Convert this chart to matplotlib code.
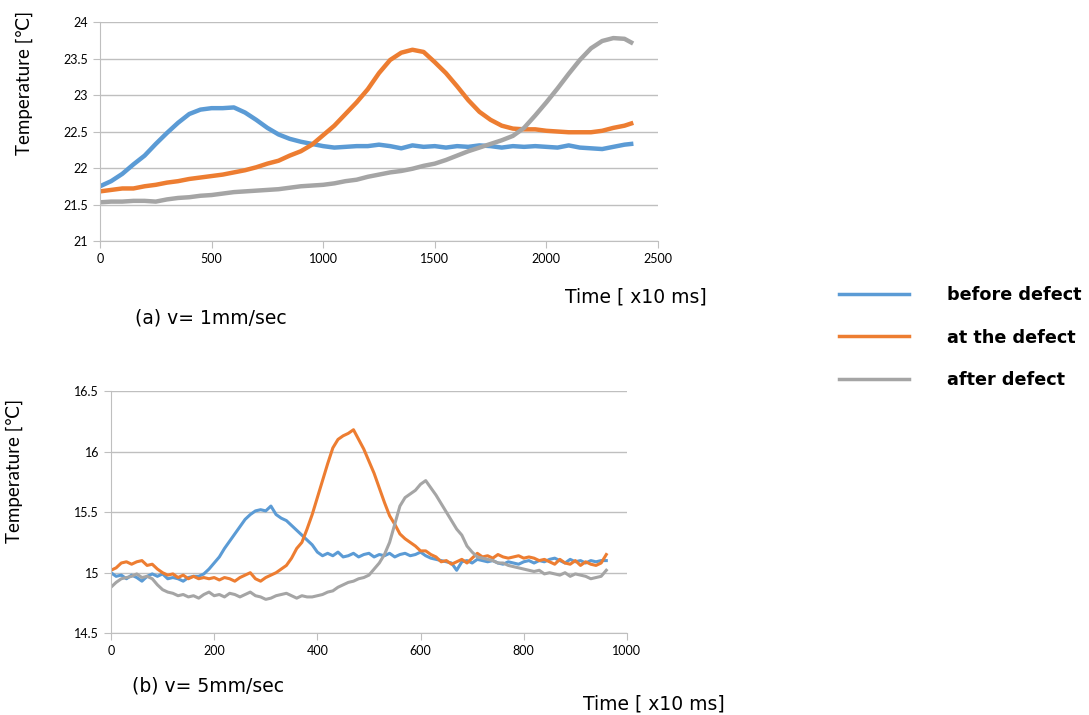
import numpy as np
import matplotlib
matplotlib.use("Agg")
import matplotlib.pyplot as plt
from matplotlib.lines import Line2D

plt.rcParams['font.family'] = ['Lato', 'DejaVu Sans']

# ---- (a) v = 1mm/sec, sampled every 50 (x10 ms)
time_a = list(range(0, 2400, 50)) + [2380]
before_a = [21.75, 21.82, 21.92, 22.05, 22.17, 22.33, 22.48, 22.62, 22.74, 22.80,
            22.82, 22.82, 22.83, 22.76, 22.66, 22.55, 22.46, 22.40, 22.36, 22.33,
            22.30, 22.28, 22.29, 22.30, 22.30, 22.32, 22.30, 22.27, 22.31, 22.29,
            22.30, 22.28, 22.30, 22.29, 22.31, 22.30, 22.28, 22.30, 22.29, 22.30,
            22.29, 22.28, 22.31, 22.28, 22.27, 22.26, 22.29, 22.32, 22.33]
at_a = [21.68, 21.70, 21.72, 21.72, 21.75, 21.77, 21.80, 21.82, 21.85, 21.87,
        21.89, 21.91, 21.94, 21.97, 22.01, 22.06, 22.10, 22.17, 22.23, 22.32,
        22.45, 22.58, 22.74, 22.90, 23.08, 23.30, 23.48, 23.58, 23.62, 23.59,
        23.45, 23.30, 23.12, 22.93, 22.77, 22.66, 22.58, 22.54, 22.53, 22.53,
        22.51, 22.50, 22.49, 22.49, 22.49, 22.51, 22.55, 22.58, 22.61]
after_a = [21.53, 21.54, 21.54, 21.55, 21.55, 21.54, 21.57, 21.59, 21.60, 21.62,
           21.63, 21.65, 21.67, 21.68, 21.69, 21.70, 21.71, 21.73, 21.75, 21.76,
           21.77, 21.79, 21.82, 21.84, 21.88, 21.91, 21.94, 21.96, 21.99, 22.03,
           22.06, 22.11, 22.17, 22.23, 22.28, 22.33, 22.38, 22.44, 22.55, 22.72,
           22.90, 23.09, 23.29, 23.48, 23.64, 23.74, 23.78, 23.77, 23.72]

# ---- (b) v = 5mm/sec, sampled every 10 (x10 ms)
time_b = list(range(0, 970, 10))
before_b = [15.00, 14.97, 14.98, 14.95, 14.98, 14.96, 14.93, 14.97, 14.99, 14.97,
            14.99, 14.95, 14.96, 14.95, 14.93, 14.96, 14.97, 14.97, 14.99, 15.03,
            15.08, 15.13, 15.20, 15.26, 15.32, 15.38, 15.44, 15.48, 15.51, 15.52,
            15.51, 15.55, 15.48, 15.45, 15.43, 15.39, 15.35, 15.31, 15.27, 15.23,
            15.17, 15.14, 15.16, 15.14, 15.17, 15.13, 15.14, 15.16, 15.13, 15.15,
            15.16, 15.13, 15.15, 15.14, 15.16, 15.13, 15.15, 15.16, 15.14, 15.15,
            15.17, 15.14, 15.12, 15.11, 15.10, 15.09, 15.08, 15.02, 15.09, 15.10,
            15.08, 15.11, 15.10, 15.09, 15.10, 15.08, 15.07, 15.09, 15.08, 15.07,
            15.09, 15.10, 15.08, 15.10, 15.09, 15.11, 15.12, 15.10, 15.08, 15.11,
            15.09, 15.10, 15.08, 15.10, 15.09, 15.10, 15.10]
at_b = [15.02, 15.04, 15.08, 15.09, 15.07, 15.09, 15.10, 15.06, 15.07, 15.03,
        15.00, 14.98, 14.99, 14.96, 14.98, 14.95, 14.97, 14.95, 14.96, 14.95,
        14.96, 14.94, 14.96, 14.95, 14.93, 14.96, 14.98, 15.00, 14.95, 14.93,
        14.96, 14.98, 15.00, 15.03, 15.06, 15.12, 15.20, 15.25, 15.36, 15.48,
        15.62, 15.76, 15.90, 16.03, 16.10, 16.13, 16.15, 16.18, 16.10, 16.02,
        15.92, 15.82, 15.70, 15.58, 15.47, 15.40, 15.32, 15.28, 15.25, 15.22,
        15.18, 15.18, 15.15, 15.13, 15.09, 15.10, 15.07, 15.09, 15.11, 15.08,
        15.12, 15.16, 15.13, 15.14, 15.12, 15.15, 15.13, 15.12, 15.13, 15.14,
        15.12, 15.13, 15.12, 15.10, 15.11, 15.09, 15.07, 15.11, 15.08, 15.07,
        15.10, 15.06, 15.09, 15.07, 15.06, 15.08, 15.15]
after_b = [14.88, 14.92, 14.95, 14.96, 14.97, 14.99, 14.96, 14.97, 14.95, 14.90,
           14.86, 14.84, 14.83, 14.81, 14.82, 14.80, 14.81, 14.79, 14.82, 14.84,
           14.81, 14.82, 14.80, 14.83, 14.82, 14.80, 14.82, 14.84, 14.81, 14.80,
           14.78, 14.79, 14.81, 14.82, 14.83, 14.81, 14.79, 14.81, 14.80, 14.80,
           14.81, 14.82, 14.84, 14.85, 14.88, 14.90, 14.92, 14.93, 14.95, 14.96,
           14.98, 15.03, 15.08, 15.15, 15.25, 15.40, 15.55, 15.62, 15.65, 15.68,
           15.73, 15.76, 15.70, 15.64, 15.57, 15.50, 15.43, 15.36, 15.31, 15.22,
           15.17, 15.13, 15.12, 15.11, 15.10, 15.08, 15.08, 15.06, 15.05, 15.04,
           15.03, 15.02, 15.01, 15.02, 14.99, 15.00, 14.99, 14.98, 15.00, 14.97,
           14.99, 14.98, 14.97, 14.95, 14.96, 14.97, 15.02]

series_names = ["before defect", "at the defect", "after defect"]
colors = ["#5B9BD5", "#ED7D31", "#A5A5A5"]

fig = plt.figure(figsize=(10.89, 7.15), dpi=100)


def style_axes(ax, xticks, yticks):
    ax.set_xticks(xticks)
    ax.set_yticks(yticks)
    ax.set_xlim(xticks[0], xticks[-1])
    ax.set_ylim(yticks[0], yticks[-1])
    ax.grid(axis="y", color="#BFBFBF", linewidth=1)
    ax.set_axisbelow(True)
    for s in ["top", "right"]:
        ax.spines[s].set_visible(False)
    for s in ["left", "bottom"]:
        ax.spines[s].set_color("#BFBFBF")
    ax.tick_params(colors="#BFBFBF", length=5, labelcolor="black", labelsize=9)
    ax.set_yticklabels([f"{v:g}" for v in yticks])


# top chart
ax1 = fig.add_axes([0.0918, 0.6629, 0.5124, 0.3063])
for y, c in zip([before_a, at_a, after_a], colors):
    ax1.plot(time_a, y, color=c, linewidth=3.2)
style_axes(ax1, [0, 500, 1000, 1500, 2000, 2500], [21, 21.5, 22, 22.5, 23, 23.5, 24])
ax1.set_ylabel("Temperature [℃]", fontsize=13.5)
ax1.yaxis.set_label_coords(-0.12, 0.72)

# bottom chart
ax2 = fig.add_axes([0.1019, 0.1143, 0.4738, 0.3389])
for y, c in zip([before_b, at_b, after_b], colors):
    ax2.plot(time_b, y, color=c, linewidth=2.2)
style_axes(ax2, [0, 200, 400, 600, 800, 1000], [14.5, 15, 15.5, 16, 16.5])
ax2.set_ylabel("Temperature [℃]", fontsize=13.5)
ax2.yaxis.set_label_coords(-0.17, 0.67)

# captions
cap = {"fontsize": 13.5, "va": "center", "family": "DejaVu Sans"}
fig.text(565 / 1089, 1 - 297 / 715, "Time [ x10 ms]", **cap)
fig.text(135 / 1089, 1 - 318 / 715, "(a) v= 1mm/sec", **cap)
fig.text(132 / 1089, 1 - 686 / 715, "(b) v= 5mm/sec", **cap)
fig.text(583 / 1089, 1 - 704 / 715, "Time [ x10 ms]", **cap)

# legend
handles = [Line2D([0], [0], color=c, linewidth=2.5) for c in colors]
leg = fig.legend(handles, series_names, loc="upper left",
                 bbox_to_anchor=(823 / 1089, 1 - 270 / 715), frameon=False,
                 handlelength=3.95, handletextpad=2.2, labelspacing=1.4,
                 prop={"weight": "bold", "size": 12.7, "family": "DejaVu Sans"})

fig.savefig("out.png", dpi=100)
